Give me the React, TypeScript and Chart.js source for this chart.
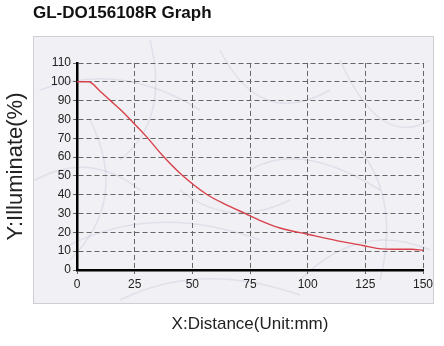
import React, { useEffect, useRef } from "react";
import { Chart, registerables } from "chart.js";

Chart.register(...registerables);

const chartTitle = "GL-DO156108R Graph";
const xAxisTitle = "X:Distance(Unit:mm)";
const yAxisTitle = "Y:Illuminate(%)";

const distanceMm = [0, 5, 10, 14.5, 19, 23.5, 30, 37, 45.5, 56.5, 65, 73, 80, 88, 100, 113, 124, 130, 140, 145, 150];
const illuminatePct = [100, 100, 95, 90, 85, 79.5, 71, 61, 50.5, 40, 34.5, 30, 26, 22.3, 19, 15.5, 13, 11.5, 11, 11, 10.5];

const xTickStep = 25;
const yTickStep = 10;

const veins: number[][] = [
  [40, 90, 120, 60, 200, 110],
  [60, 250, 150, 200, 260, 240],
  [220, 50, 260, 130, 330, 90],
  [300, 280, 360, 220, 430, 250],
  [120, 300, 200, 260, 300, 295],
  [340, 60, 380, 150, 430, 120],
  [35, 180, 90, 150, 140, 190],
  [250, 170, 300, 140, 380, 190],
  [150, 40, 170, 120, 120, 160],
  [380, 280, 400, 200, 360, 150],
  [90, 120, 130, 200, 70, 260],
  [180, 190, 230, 230, 290, 200],
];

const backgroundPlugin = {
  id: "marbleBox",
  beforeDraw(chart: any) {
    const ctx = chart.ctx;
    ctx.save();
    ctx.fillStyle = "#ffffff";
    ctx.fillRect(0, 0, chart.width, chart.height);
    const bx = 33, by = 36, bw = 400, bh = 267;
    ctx.fillStyle = "#f0f0f5";
    ctx.fillRect(bx, by, bw, bh);
    ctx.beginPath();
    ctx.rect(bx, by, bw, bh);
    ctx.clip();
    ctx.strokeStyle = "rgba(140,140,180,0.16)";
    ctx.lineWidth = 1.5;
    for (const v of veins) {
      ctx.beginPath();
      ctx.moveTo(v[0], v[1]);
      ctx.quadraticCurveTo(v[2], v[3], v[4], v[5]);
      ctx.stroke();
    }
    ctx.restore();
    ctx.save();
    ctx.strokeStyle = "#cfcfd3";
    ctx.lineWidth = 1;
    ctx.strokeRect(bx + 0.5, by + 0.5, bw, bh);
    ctx.fillStyle = "#111111";
    ctx.font = "bold 17px 'Liberation Sans', Arial, sans-serif";
    ctx.textBaseline = "alphabetic";
    ctx.textAlign = "left";
    ctx.fillText(chartTitle, 33, 18);
    ctx.restore();
  },
};

export default function App() {
  const ref = useRef<HTMLCanvasElement | null>(null);

  useEffect(() => {
    document.body.style.margin = "0";
    if (!ref.current) return;
    const points = distanceMm.map((x, i) => ({ x, y: illuminatePct[i] }));
    const chart = new Chart(ref.current, {
      type: "line",
      data: {
        datasets: [
          {
            data: points,
            borderColor: "#d9414a",
            borderWidth: 1.4,
            pointRadius: 0,
            cubicInterpolationMode: "monotone",
            fill: false,
          },
        ],
      },
      options: {
        animation: false,
        responsive: false,
        maintainAspectRatio: false,
        layout: { padding: { top: 63, right: 21, left: 0, bottom: 0 } },
        plugins: {
          legend: { display: false },
          tooltip: { enabled: false },
          title: { display: false },
        },
        scales: {
          x: {
            type: "linear",
            min: 0,
            max: 150,
            ticks: {
              stepSize: xTickStep,
              color: "#222",
              font: { family: "'Liberation Sans', Arial, sans-serif", size: 12 },
              padding: 3,
              maxRotation: 0,
            },
            grid: {
              color: "#666",
              lineWidth: 1,
              tickLength: 4,
              tickBorderDash: [],
            } as any,
            border: { display: true, color: "#000", width: 2.5, dash: [5, 3] },
            title: {
              display: true,
              text: xAxisTitle,
              color: "#222",
              font: { family: "'Liberation Sans', Arial, sans-serif", size: 17 },
              padding: { top: 0, bottom: 11 },
            },
            afterFit: (s: any) => {
              s.height = 76;
            },
          },
          y: {
            type: "linear",
            min: 0,
            max: 110,
            ticks: {
              stepSize: yTickStep,
              color: "#222",
              font: { family: "'Liberation Sans', Arial, sans-serif", size: 12 },
              padding: 2,
            },
            grid: {
              color: "#666",
              lineWidth: 1,
              tickLength: 4,
              tickBorderDash: [],
            } as any,
            border: { display: true, color: "#000", width: 2.5, dash: [5, 3] },
            title: {
              display: true,
              text: yAxisTitle,
              color: "#222",
              font: { family: "'Liberation Sans', Arial, sans-serif", size: 22 },
              padding: { top: 3, bottom: 0 },
            },
            afterFit: (s: any) => {
              s.width = 77;
            },
          },
        },
      },
      plugins: [backgroundPlugin],
    });
    return () => chart.destroy();
  }, []);

  return (
    <div style={{ position: "fixed", left: 0, top: 0, width: 444, height: 346 }}>
      <canvas ref={ref} width={444} height={346} style={{ width: 444, height: 346 }} />
    </div>
  );
}
